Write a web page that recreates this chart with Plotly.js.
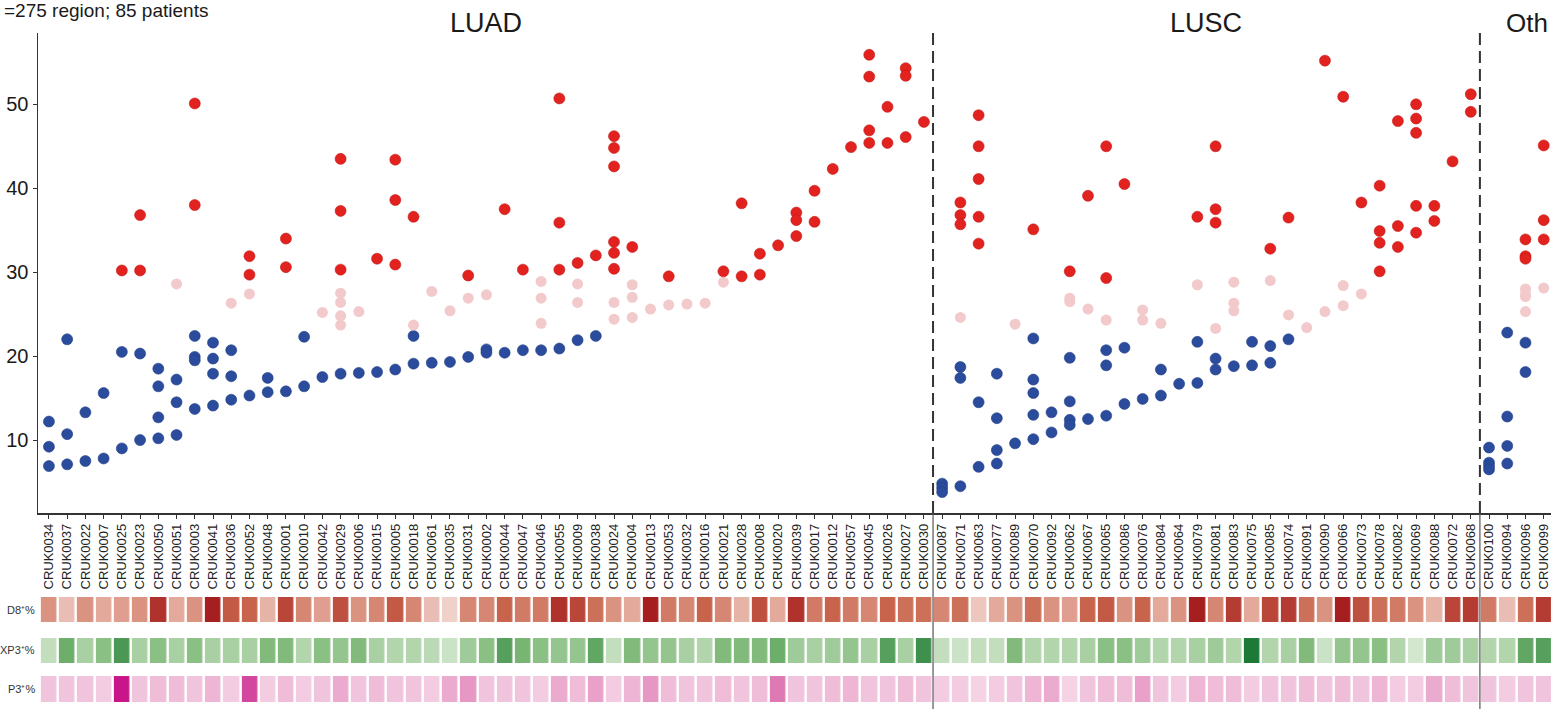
<!DOCTYPE html>
<html>
<head>
<meta charset="utf-8">
<script src="https://cdn.plot.ly/plotly-3.0.1.min.js"></script>
<style>html,body{margin:0;padding:0;background:#fff;}#chart{width:1551px;height:709px;}</style>
</head>
<body>
<div id="chart"></div>
<script>
// ---------- DATA ----------
const patients = [
  "CRUK0034","CRUK0037","CRUK0022","CRUK0007","CRUK0025","CRUK0023","CRUK0050","CRUK0051","CRUK0003","CRUK0041",
  "CRUK0036","CRUK0052","CRUK0048","CRUK0001","CRUK0010","CRUK0042","CRUK0029","CRUK0006","CRUK0015","CRUK0005",
  "CRUK0018","CRUK0061","CRUK0035","CRUK0031","CRUK0002","CRUK0044","CRUK0047","CRUK0046","CRUK0055","CRUK0009",
  "CRUK0038","CRUK0024","CRUK0004","CRUK0013","CRUK0053","CRUK0032","CRUK0016","CRUK0021","CRUK0028","CRUK0008",
  "CRUK0020","CRUK0039","CRUK0017","CRUK0012","CRUK0057","CRUK0045","CRUK0026","CRUK0027","CRUK0030",
  "CRUK0087","CRUK0071","CRUK0063","CRUK0077","CRUK0089","CRUK0070","CRUK0092","CRUK0062","CRUK0067","CRUK0065",
  "CRUK0086","CRUK0076","CRUK0084","CRUK0064","CRUK0079","CRUK0081","CRUK0083","CRUK0075","CRUK0085","CRUK0074",
  "CRUK0091","CRUK0090","CRUK0066","CRUK0073","CRUK0078","CRUK0082","CRUK0069","CRUK0088","CRUK0072","CRUK0068",
  "CRUK0100","CRUK0094","CRUK0096","CRUK0099"
];
const groupNames = ["LUAD", "LUSC", "Oth"];
const groupSizes = [49, 30, 6];
const subtitle = "=275 region; 85 patients";

// per-patient region values (one list per patient, in the order of `patients`)
const blueValues = [
  [12.2,9.2,6.9],[22.0,10.7,7.1],[13.3,7.5],[15.6,7.8],[20.5,9.0],[20.3,10.0],[18.5,16.4,12.7,10.2],[17.2,14.5,10.6],[22.4,19.9,19.5,13.7],[21.6,19.7,17.9,14.1],
  [20.7,17.6,14.8],[15.3],[17.4,15.7],[15.8],[22.3,16.4],[17.5],[17.9],[18.0],[18.1],[18.4],
  [22.4,19.1],[19.2],[19.3],[19.9],[20.8,20.4],[20.4],[20.7],[20.7],[20.9],[21.9],
  [22.4],[],[],[],[],[],[],[],[],[],
  [],[],[],[],[],[],[],[],[],
  [4.8,4.3,3.8],[18.7,17.4,4.5],[14.5,6.8],[17.9,12.6,8.8,7.2],[9.6],[22.1,17.2,15.6,13.0,10.1],[13.3,10.9],[19.8,14.6,12.4,11.8],[12.5],[20.7,18.9,12.9],
  [21.0,14.3],[14.9],[18.4,15.3],[16.7],[21.7,16.8],[19.7,18.4],[18.8],[21.7,18.9],[21.2,19.2],[22.0],
  [],[],[],[],[],[],[],[],[],[],
  [9.1,7.3,6.9,6.5],[22.8,12.8,9.3,7.2],[21.6,18.1],[]
];
const pinkValues = [
  [],[],[],[],[],[],[],[28.6],[],[],
  [26.3],[27.4],[],[],[],[25.2],[27.5,26.4,24.8,23.7],[25.3],[],[],
  [23.7],[27.7],[25.4],[26.9],[27.3],[],[],[28.9,26.9,23.9],[],[28.6,26.4],
  [],[26.4,24.4],[28.5,27.0,24.6],[25.6],[26.1],[26.2],[26.3],[28.8],[],[],
  [],[],[],[],[],[],[],[],[],
  [],[24.6],[],[],[23.8],[],[],[26.9,26.5],[25.6],[24.3],
  [],[25.5,24.3],[23.9],[],[28.5],[23.3],[28.8,26.3,25.4],[],[29.0],[24.9],
  [23.4],[25.3],[28.4,26.0],[27.4],[],[],[],[],[],[],
  [],[],[28.0,27.4,27.1,25.3],[28.1]
];
const redValues = [
  [],[],[],[],[30.2],[36.8,30.2],[],[],[50.1,38.0],[],
  [],[31.9,29.7],[],[34.0,30.6],[],[],[43.5,37.3,30.3],[],[31.6],[43.4,38.6,30.9],
  [36.6],[],[],[29.6],[],[37.5],[30.3],[],[50.7,35.9,30.3],[31.1],
  [32.0],[46.2,44.8,42.6,33.6,32.3,30.4],[33.0],[],[29.5],[],[],[30.1],[38.2,29.5],[32.2,29.7],
  [33.2],[37.1,36.2,34.3],[39.7,36.0],[42.3],[44.9],[55.9,53.3,46.9,45.4],[49.7,45.4],[54.3,53.4,46.1],[47.9],
  [],[38.3,36.8,35.7],[48.7,45.0,41.1,36.6,33.4],[],[],[35.1],[],[30.1],[39.1],[45.0,29.3],
  [40.5],[],[],[],[36.6],[45.0,37.5,35.9],[],[],[32.8],[36.5],
  [],[55.2],[50.9],[38.3],[40.3,34.9,33.5,30.1],[48.0,35.5,33.0],[50.0,48.3,46.6,37.9,34.7],[37.9,36.1],[43.2],[51.2,49.1],
  [],[],[33.9,31.9,31.6],[45.1,36.2,33.9]
];

// heatmap rows (relative intensity 0-1 per patient)
const heatRowLabels = ["D8⁺%", "XP3⁺%", "P3⁺%"];
const cd8Row = [
  0.40,0.20,0.40,0.30,0.35,0.40,0.85,0.30,0.40,0.95,
  0.65,0.60,0.25,0.75,0.45,0.35,0.70,0.40,0.45,0.65,
  0.45,0.20,0.10,0.45,0.45,0.60,0.50,0.50,0.85,0.75,
  0.55,0.40,0.30,0.95,0.50,0.45,0.60,0.45,0.25,0.70,
  0.30,0.85,0.50,0.60,0.50,0.45,0.60,0.55,0.55,
  0.45,0.55,0.15,0.30,0.40,0.55,0.40,0.35,0.60,0.65,
  0.40,0.60,0.30,0.40,0.95,0.45,0.80,0.30,0.75,0.80,
  0.55,0.40,0.95,0.70,0.55,0.50,0.40,0.25,0.75,0.80,
  0.50,0.20,0.55,0.80
];
const foxp3Row = [
  0.20,0.65,0.35,0.50,0.80,0.35,0.50,0.35,0.50,0.35,
  0.35,0.35,0.55,0.55,0.30,0.50,0.45,0.55,0.35,0.30,
  0.30,0.25,0.15,0.40,0.50,0.75,0.60,0.50,0.45,0.45,
  0.70,0.20,0.55,0.45,0.45,0.35,0.30,0.55,0.55,0.55,
  0.65,0.40,0.35,0.40,0.45,0.35,0.75,0.35,0.85,
  0.20,0.15,0.20,0.20,0.55,0.30,0.30,0.30,0.35,0.50,
  0.50,0.40,0.30,0.30,0.35,0.40,0.30,1.00,0.30,0.35,
  0.55,0.15,0.45,0.45,0.50,0.30,0.10,0.40,0.40,0.35,
  0.30,0.30,0.70,0.75
];
const cd4foxp3Row = [
  0.20,0.20,0.20,0.15,1.00,0.20,0.25,0.25,0.20,0.30,
  0.15,0.80,0.15,0.25,0.15,0.20,0.35,0.20,0.25,0.20,
  0.20,0.15,0.35,0.45,0.20,0.20,0.20,0.15,0.35,0.25,
  0.40,0.15,0.30,0.45,0.25,0.20,0.20,0.25,0.20,0.25,
  0.60,0.20,0.20,0.25,0.30,0.20,0.20,0.25,0.20,
  0.15,0.15,0.10,0.15,0.20,0.30,0.35,0.10,0.20,0.25,
  0.25,0.40,0.20,0.15,0.30,0.25,0.25,0.15,0.20,0.20,
  0.25,0.20,0.25,0.20,0.30,0.15,0.15,0.35,0.25,0.20,
  0.20,0.15,0.20,0.20
];

// ---------- BUILD ----------
const idx = patients.map((_, i) => i);
function flatten(vals) {
  const xs = [], ys = [], txt = [];
  vals.forEach((list, i) => list.forEach(v => { xs.push(i); ys.push(v); txt.push(patients[i]); }));
  return {xs, ys, txt};
}
const B = flatten(blueValues), P = flatten(pinkValues), R = flatten(redValues);

const traces = [
  {type:'scatter', mode:'markers', x:B.xs, y:B.ys, text:B.txt, xaxis:'x', yaxis:'y', cliponaxis:false,
   marker:{size:11, color:'#2b4c9c', line:{width:0.6, color:'#223f86'}}, showlegend:false, hoverinfo:'text+y'},
  {type:'scatter', mode:'markers', x:P.xs, y:P.ys, text:P.txt, xaxis:'x', yaxis:'y', cliponaxis:false,
   marker:{size:11, color:'#f3cacb', line:{width:0}}, showlegend:false, hoverinfo:'text+y'},
  {type:'scatter', mode:'markers', x:R.xs, y:R.ys, text:R.txt, xaxis:'x', yaxis:'y', cliponaxis:false,
   marker:{size:11, color:'#e2221f', line:{width:0.6, color:'#c41a18'}}, showlegend:false, hoverinfo:'text+y'},
  {type:'heatmap', x:idx, y:[0], z:[cd8Row], xaxis:'x', yaxis:'y2', zmin:0, zmax:1, xgap:2.5, showscale:false,
   colorscale:[[0,'#f6e4e0'],[0.3,'#e3aa9c'],[0.6,'#c8644c'],[1,'#a0141a']]},
  {type:'heatmap', x:idx, y:[0], z:[foxp3Row], xaxis:'x', yaxis:'y3', zmin:0, zmax:1, xgap:2.5, showscale:false,
   colorscale:[[0,'#e2f0df'],[0.3,'#b2d5ac'],[0.6,'#78b572'],[1,'#1c7a36']]},
  {type:'heatmap', x:idx, y:[0], z:[cd4foxp3Row], xaxis:'x', yaxis:'y4', zmin:0, zmax:1, xgap:2.5, showscale:false,
   colorscale:[[0,'#f8e2ee'],[0.3,'#eeb5d4'],[0.6,'#de79b4'],[1,'#c8168a']]}
];

// group boundaries and label positions
const bounds = [];
let acc = 0;
for (let g = 0; g < groupSizes.length - 1; g++) { acc += groupSizes[g]; bounds.push(acc - 0.5); }
const centers = [];
acc = 0;
for (let g = 0; g < groupSizes.length; g++) { centers.push(acc + (groupSizes[g] - 1) / 2); acc += groupSizes[g]; }

const yMainDom = [0.2764, 0.9535];
const shapes = [];
bounds.forEach(b => {
  shapes.push({type:'line', xref:'x', yref:'paper', x0:b, x1:b, y0:yMainDom[0], y1:yMainDom[1],
               line:{color:'#333', width:2, dash:'12px,6px'}});
  shapes.push({type:'line', xref:'x', yref:'paper', x0:b, x1:b, y0:0, y1:yMainDom[0],
               line:{color:'#555', width:1.2}});
});

const annotations = [];
groupNames.forEach((g, i) => {
  const last = (i === groupNames.length - 1);
  annotations.push({xref: last ? 'paper' : 'x', yref:'paper', x: last ? 0.9995 : centers[i], y:0.968, text:g, showarrow:false,
    font:{family:'Liberation Sans, Arial, sans-serif', size: last ? 26 : 27, color:'#1a1a1a'},
    xanchor: last ? 'right' : 'center', yanchor:'middle'});
});
annotations.push({xref:'paper', yref:'paper', x:-0.0238, y:0.985, xanchor:'left', yanchor:'middle', showarrow:false,
  text:subtitle, font:{family:'Liberation Sans, Arial, sans-serif', size:19, color:'#1a1a1a'}});
const rowY = [0.140, 0.083, 0.028];
heatRowLabels.forEach((t, i) => annotations.push({xref:'paper', yref:'paper', x:0, xshift:-1, y:rowY[i],
  xanchor:'right', yanchor:'middle', showarrow:false, text:t,
  font:{family:'Liberation Sans, Arial, sans-serif', size:11, color:'#333'}}));

const hidden = {visible:false, range:[-0.5,0.5], fixedrange:true};
const layout = {
  width:1551, height:709,
  margin:{l:38, r:0, t:0, b:0, pad:0},
  paper_bgcolor:'#fff', plot_bgcolor:'#fff',
  showlegend:false,
  font:{family:'Liberation Sans, Arial, sans-serif', color:'#1a1a1a'},
  xaxis:{range:[-0.6, 82.4], tickmode:'array', tickvals:idx, ticktext:patients, tickangle:-90,
         tickfont:{size:13, color:'#222'}, ticks:'outside', ticklen:4, tickcolor:'#333', tickwidth:1,
         showline:true, linecolor:'#333', linewidth:1.5, showgrid:false, zeroline:false, anchor:'y'},
  yaxis:{domain:yMainDom, range:[1.3, 58.5], tickmode:'array', tickvals:[10,20,30,40,50],
         tickfont:{size:20, color:'#1a1a1a'}, ticks:'outside', ticklen:4, tickcolor:'#333',
         showline:true, linecolor:'#333', linewidth:1.5, showgrid:false, zeroline:false, anchor:'x'},
  yaxis2:Object.assign({domain:[0.1227, 0.1580], anchor:'x'}, hidden),
  yaxis3:Object.assign({domain:[0.0649, 0.1001], anchor:'x'}, hidden),
  yaxis4:Object.assign({domain:[0.0099, 0.0465], anchor:'x'}, hidden),
  shapes:shapes,
  annotations:annotations
};

Plotly.newPlot('chart', traces, layout, {displayModeBar:false, staticPlot:true});
</script>
</body>
</html>
